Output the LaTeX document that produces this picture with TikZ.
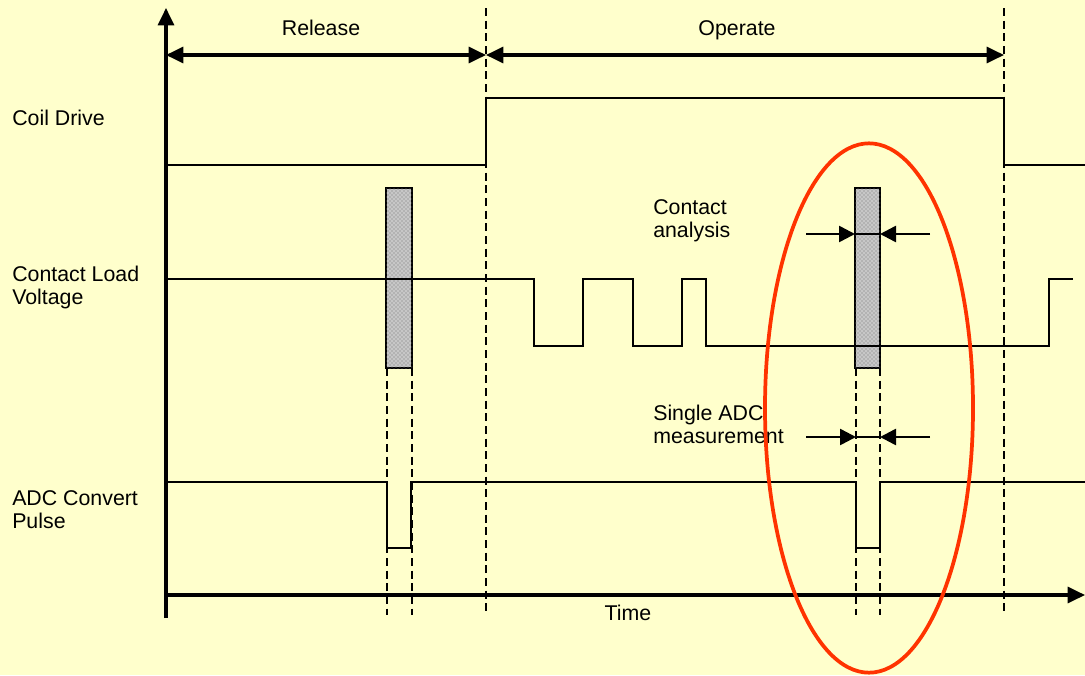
\documentclass[tikz,border=0pt]{standalone}
\usepackage{fontspec}
\setmainfont{Liberation Sans}
\usetikzlibrary{arrows.meta,patterns}
\definecolor{bg}{RGB}{255,255,204}
\definecolor{ring}{RGB}{255,51,0}
\begin{document}
\begin{tikzpicture}[x=0.75pt,y=-0.75pt,
  sig/.style={line width=1.9pt, line join=miter},
  axis/.style={line width=2.3pt},
  vdash/.style={line width=2pt, dash pattern=on 6pt off 3.5pt},
  tip/.style={-{Triangle[length=13pt,width=12pt]}},
  dtip/.style={{Triangle[length=13pt,width=12pt]}-{Triangle[length=13pt,width=12pt]}},
  mtip/.style={line width=1.9pt,-{Triangle[length=12pt,width=12pt]}},
  lbl/.style={font=\fontsize{16}{17.25}\selectfont, inner sep=0pt, align=left, anchor=west},
  ttl/.style={font=\fontsize{16}{17.25}\selectfont, inner sep=0pt, anchor=base},
  hbar/.style={draw, line width=1.9pt, fill=black!22, postaction={pattern=crosshatch dots, pattern color=black!55}}
]
\fill[bg] (0,0) rectangle (1085,675);
\useasboundingbox (0,0) rectangle (1085,675);

% key coordinates
\coordinate (o) at (166,595);
\coordinate (ytop) at (166,8);
\coordinate (ybot) at (166,618);
\coordinate (tend) at (1085,595);
\coordinate (rL) at (166,55);
\coordinate (rM) at (486,55);
\coordinate (rR) at (1004,55);
\coordinate (d1t) at (486,8);
\coordinate (d1b) at (486,615);
\coordinate (d2t) at (1004,8);
\coordinate (d2b) at (1004,615);

% axes
\draw[axis] (ybot) -- (o);
\draw[axis,tip] (o) -- (ytop);
\draw[axis,tip] (o) -- (tend);

% phase dashed lines
\draw[vdash] (d1t) -- (d1b);
\draw[vdash] (d2t) -- (d2b);

% phase arrows
\draw[axis,dtip] (rL) -- (rM);
\draw[axis,dtip] (rM) -- (rR);
\node[ttl] (release) at (321,35) {Release};
\node[ttl] (operate) at (737,35) {Operate};

% coil drive
\draw[sig] (166,165) -- (486,165) -- (486,98) -- (1004,98) -- (1004,165) -- (1085,165);

% contact load voltage
\draw[sig] (166,279) -- (534,279) -- (534,346) -- (583,346) -- (583,279) -- (633,279)
  -- (633,346) -- (682,346) -- (682,279) -- (706,279) -- (706,346) -- (1049,346)
  -- (1049,279) -- (1073,279);

% hatched bars
\draw[hbar] (386,188) rectangle (412,368);
\draw[hbar] (855,188) rectangle (880,368);
\draw[line width=1.2pt] (855,234) -- (880,234);
\draw[sig] (386,279) -- (412,279);
\draw[sig] (855,346) -- (880,346);

% ADC convert pulse
\draw[sig] (166,482) -- (387,482) -- (387,548) -- (411,548) -- (411,482) -- (856,482)
  -- (856,548) -- (880,548) -- (880,482) -- (1085,482);

% pulse dashed lines
\draw[vdash] (387,368) -- (387,615);
\draw[vdash] (412,368) -- (412,615);
\draw[vdash] (856,368) -- (856,615);
\draw[vdash] (880,368) -- (880,615);

% measurement arrows
\coordinate (a1l) at (806,234);
\coordinate (a1r) at (930,234);
\coordinate (b1l) at (855,234);
\coordinate (b1r) at (880,234);
\draw[mtip] (a1l) -- (b1l);
\draw[mtip] (a1r) -- (b1r);
\coordinate (a2l) at (806,437);
\coordinate (a2r) at (930,437);
\coordinate (b2l) at (856,437);
\coordinate (b2r) at (880,437);
\draw[line width=1.2pt] (b2l) -- (b2r);
\draw[mtip] (a2l) -- (b2l);
\draw[mtip] (a2r) -- (b2r);

% labels
\node[lbl] (coil) at (12,118) {Coil Drive};
\node[lbl] (clv) at (12,287) {Contact Load\\Voltage};
\node[lbl] (adc) at (12,510) {ADC Convert\\Pulse};
\node[lbl] (ca) at (653,221) {Contact\\analysis};
\node[lbl] (sam) at (653,424) {Single ADC\\measurement};
\node[ttl] (time) at (628,620) {Time};

% red ellipse
\draw[ring, line width=2.8pt] (869,408) ellipse [x radius=78pt, y radius=198.5pt];
\end{tikzpicture}
\end{document}
